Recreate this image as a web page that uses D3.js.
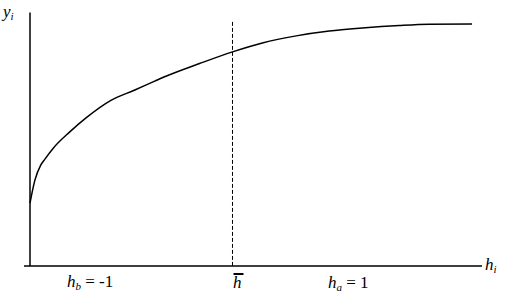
<!DOCTYPE html>
<html>
<head>
<meta charset="utf-8">
<script src="https://cdn.jsdelivr.net/npm/d3@7"></script>
<style>
	body { margin: 0; background: #fff; }
	svg { display: block; }
	svg text { font-family: "Liberation Serif", "DejaVu Serif", Tinos, "Times New Roman", Times, "Noto Serif", FreeSerif, serif; }
</style>
</head>
<body>
<div id="chart"></div>
<script>
	// curve (abstract units, 0..100 on both axes)
	const hValues = [0, 1.1, 2.4, 3.3, 5.1, 8.8, 12.4, 17.9, 23.2, 27.6, 30.2, 37.5, 44.8, 51.4, 58.9, 66.2, 73.5, 81.7, 88.3, 97.8];
	const yValues = [24.8, 33.9, 39.8, 42.1, 46.3, 52.8, 58.3, 65.2, 69.3, 72.8, 74.8, 79.7, 84.3, 87.8, 90.6, 92.5, 93.7, 94.7, 95.2, 95.3];
	const hBar = 44.8;
	const hBarTop = 96.1;

	const width = 505;
	const height = 298;

	let dimensions = {
		margin: {
			top: 12,
			bottom: 32,
			left: 30,
			right: 22
		}
	};

	let svg = d3.select('#chart')
		.append('svg')
		.attr('width', width)
		.attr('height', height);

	let xScale = d3.scaleLinear()
		.domain([0, 100])
		.range([dimensions.margin.left, width - dimensions.margin.right - 1]);

	let yScale = d3.scaleLinear()
		.domain([0, 100])
		.range([height - dimensions.margin.bottom, dimensions.margin.top]);

	// axes
	svg.append('line')
		.attr('x1', xScale(0))
		.attr('x2', xScale(0))
		.attr('y1', yScale(100) + 0.5)
		.attr('y2', yScale(0))
		.attr('stroke', '#000')
		.attr('stroke-width', 1.5);

	svg.append('line')
		.attr('x1', xScale(0) - 6)
		.attr('x2', xScale(100))
		.attr('y1', yScale(0))
		.attr('y2', yScale(0))
		.attr('stroke', '#000')
		.attr('stroke-width', 1.5);

	// dashed line at h bar
	svg.append('line')
		.attr('x1', xScale(hBar))
		.attr('x2', xScale(hBar))
		.attr('y1', yScale(hBarTop))
		.attr('y2', yScale(0))
		.attr('stroke', '#000')
		.attr('stroke-width', 1)
		.attr('stroke-dasharray', '4,2');

	const points = hValues.map(function (h, i) {
		return [h, yValues[i]];
	});

	let line = d3.line()
		.x(function (d) { return xScale(d[0]); })
		.y(function (d) { return yScale(d[1]); })
		.curve(d3.curveMonotoneX);

	svg.append('path')
		.datum(points)
		.attr('d', line)
		.attr('fill', 'none')
		.attr('stroke', '#000')
		.attr('stroke-width', 1.5);

	// labels
	function subLabel(x, y, main, sub, rest) {
		let t = svg.append('text')
			.attr('x', x)
			.attr('y', y)
			.attr('font-size', 17);
		t.append('tspan')
			.attr('font-style', 'italic')
			.text(main);
		t.append('tspan')
			.attr('font-style', 'italic')
			.attr('font-size', 11)
			.attr('dy', 3)
			.text(sub);
		if (rest) {
			t.append('tspan')
				.attr('dy', -3)
				.text(rest);
		}
		return t;
	}

	subLabel(3, 17, 'y', 'i', null);
	subLabel(485, 270, 'h', 'i', null);
	subLabel(67, 287, 'h', 'b', ' = -1');
	subLabel(328, 288, 'h', 'a', ' = 1');

	svg.append('text')
		.attr('x', xScale(hBar) + 0.5)
		.attr('y', 288)
		.attr('font-size', 17)
		.attr('font-style', 'italic')
		.text('h');

	svg.append('line')
		.attr('x1', xScale(hBar) + 1)
		.attr('x2', xScale(hBar) + 11)
		.attr('y1', 274)
		.attr('y2', 274)
		.attr('stroke', '#000')
		.attr('stroke-width', 2);
</script>
</body>
</html>
